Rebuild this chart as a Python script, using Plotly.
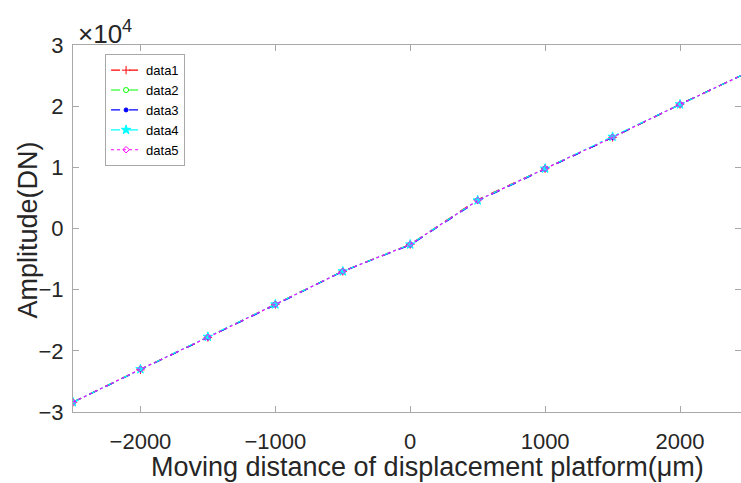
import plotly.graph_objects as go

x = [-2500, -2000, -1500, -1000, -500, 0, 500, 1000, 1500, 2000, 2500]
data1 = [-28400, -23100, -17800, -12400, -7000, -2600, 4700, 9800, 14900, 20300, 25500]
data2 = [-28400, -23000, -17800, -12400, -7000, -2600, 4600, 9800, 14900, 20300, 25500]
data3 = [-28400, -23100, -17800, -12500, -7000, -2700, 4500, 9700, 14900, 20300, 25500]
data4 = [-28400, -23000, -17700, -12400, -7000, -2600, 4600, 9800, 15000, 20300, 25500]
data5 = [-28400, -23000, -17800, -12400, -7000, -2600, 4600, 9800, 14900, 20300, 25500]
names = ["data1", "data2", "data3", "data4", "data5"]
series = [data1, data2, data3, data4, data5]
colors = ["#ff0000", "#00ff00", "#0000ff", "#00ffff", "#ff00ff"]
dashes = ["dash", "dash", "dash", "dashdot", "dot"]
symbols = ["cross-thin-open", "circle-open", "circle", "star", "diamond-open"]
msizes = [6, 5, 4, 7, 5]

xticks = [-2000, -1000, 0, 1000, 2000]
xticktext = ["\u22122000", "\u22121000", "0", "1000", "2000"]
yticks = [-30000, -20000, -10000, 0, 10000, 20000, 30000]
yticktext = ["\u22123", "\u22122", "\u22121", "0", "1", "2", "3"]

fig = go.Figure()
for n, s, c, d, sym, ms in zip(names, series, colors, dashes, symbols, msizes):
    fig.add_trace(go.Scatter(
        x=x, y=s, name=n, mode="lines+markers",
        line=dict(color=c, dash=d, width=1.2),
        marker=dict(symbol=sym, size=ms, color=c, line=dict(color=c, width=1)),
    ))

axis_common = dict(
    showline=True, linecolor="#a8a8a8", linewidth=1, mirror="ticks",
    ticks="inside", ticklen=6, tickcolor="#a8a8a8", showgrid=False, zeroline=False,
    tickfont=dict(family="Liberation Sans, Arial", size=22, color="#262626"),
)

fig.update_layout(
    width=741, height=483,
    margin=dict(l=73, r=0, t=45, b=71),
    plot_bgcolor="white", paper_bgcolor="white",
    font=dict(family="Liberation Sans, Arial", color="#262626"),
    xaxis=dict(range=[-2500, 2452], tickvals=xticks, ticktext=xticktext,
               ticklabelstandoff=10, **axis_common),
    yaxis=dict(range=[-30000, 30000], tickvals=yticks, ticktext=yticktext,
               ticklabelstandoff=4, **axis_common),
    legend=dict(x=0.048, y=0.975, xanchor="left", yanchor="top",
                bgcolor="white", bordercolor="#a8a8a8", borderwidth=1,
                font=dict(size=13, color="#000000"), tracegroupgap=0, itemwidth=30),
    showlegend=True,
)
fig.add_annotation(xref="paper", yref="paper", x=0.53, y=0, xanchor="center", yanchor="top",
                   text="Moving distance of displacement platform(\u03bcm)", showarrow=False,
                   borderpad=0, font=dict(size=27, color="#262626"), yshift=-39)
fig.add_annotation(xref="paper", yref="paper", x=-0.0674, y=0.497, xanchor="center", yanchor="middle",
                   text="Amplitude(DN)", textangle=-90, showarrow=False, borderpad=0,
                   font=dict(size=27, color="#262626"))
fig.add_annotation(xref="paper", yref="paper", x=0.0, y=1.0, xanchor="left", yanchor="bottom",
                   text="\u00d710<sup>4</sup>", showarrow=False,
                   font=dict(size=26, color="#262626"), yshift=-6, xshift=3)

fig.write_html("out.html")
